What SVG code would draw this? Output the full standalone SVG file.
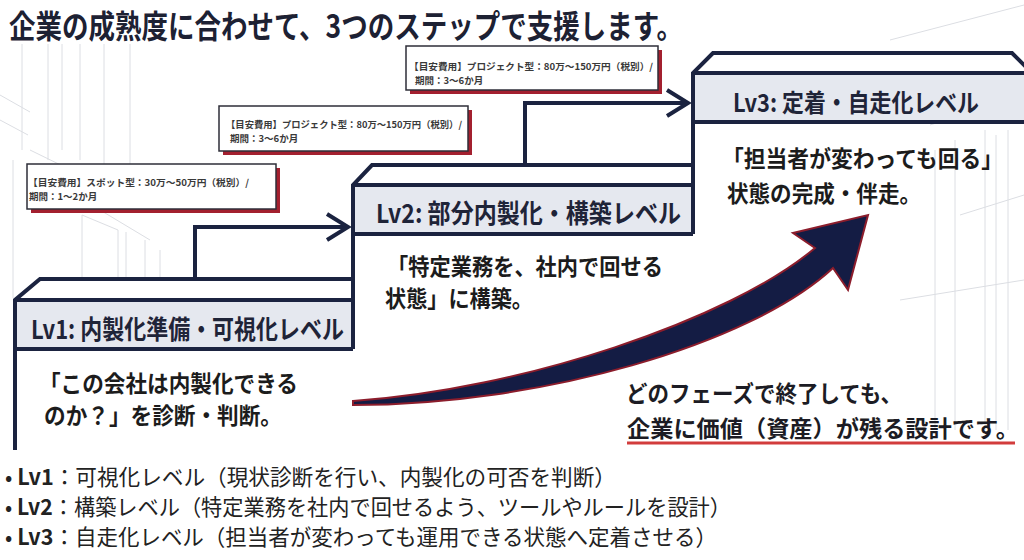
<svg xmlns="http://www.w3.org/2000/svg" width="1024" height="560" viewBox="0 0 1024 560">
<defs>
<style>
.bg{stroke:#dcdee3;stroke-width:1;fill:none}
.step{stroke:#1b2340;stroke-width:4;fill:none;stroke-linejoin:miter}
.band{fill:#e5e8ef}
.face{fill:#ffffff}
.conn{stroke:#1b2340;stroke-width:4;fill:none;stroke-linejoin:miter}
.jp{font-family:"Noto Sans CJK JP","Noto Sans",sans-serif}
.title{font-size:32px;font-weight:700;fill:#1d2133}
.lv{font-size:26px;font-weight:700;fill:#1f2438}
.body{font-size:23px;font-weight:700;fill:#1c1c1c}
.price{font-size:9.5px;font-weight:700;fill:#3a3a3a}
.pbox{fill:#ffffff;stroke:#2e2e38;stroke-width:1.5}
.pshadow{fill:#a3202f}
.note{font-size:23px;font-weight:700;fill:#1c1c24}
.bul{font-size:22px;font-weight:400;fill:#222222}
</style>
<marker id="chev" viewBox="0 0 26 30" refX="23" refY="15" markerWidth="26" markerHeight="30" markerUnits="userSpaceOnUse" orient="auto">
<path d="M2,2 L23,15 L2,28" fill="none" stroke="#1b2340" stroke-width="4"/>
</marker>
</defs>
<rect width="1024" height="560" fill="#ffffff"/>

<g id="background">
<path class="bg" d="M22,44V150 M48,44V160 M62,44V150 M80,44V160 M104,44V165 M130,44V165 M0,95L30,112 M0,120L28,135"/>
<path class="bg" d="M13,160V298 M30,150L75,172 M82,215V279 M100,210L150,240 M118,230V279 M126,232V279 M145,240V279 M160,250V279 M82,215L118,230"/>
<path class="bg" d="M935,150V430 M955,140V430 M985,130V430 M996,135V430 M1008,130V430 M890,40L1024,5 M930,125L1024,95 M960,215L1024,195 M900,300L1024,280"/>
</g>

<text class="jp title" x="9" y="38" textLength="674" lengthAdjust="spacingAndGlyphs">企業の成熟度に合わせて、3つのステップで支援します。</text>

<g id="connectors">
<path class="conn" d="M195,279 V227 H348" marker-end="url(#chev)"/>
<path class="conn" d="M525,165 V103 H688" marker-end="url(#chev)"/>
</g>

<g id="lv1">
<path class="face" d="M15,300 L40,279 H353 V300 Z"/>
<rect class="band" x="15" y="300" width="338" height="49"/>
<path class="step" d="M15,450 V300 L40,279 H353 V349 M15,300 H353 M15,349 H353"/>
<text class="jp lv" x="31" y="339" textLength="313" lengthAdjust="spacingAndGlyphs">Lv1: 内製化準備・可視化レベル</text>
<text class="jp body" x="39" y="392" textLength="259" lengthAdjust="spacingAndGlyphs">「この会社は内製化できる</text>
<text class="jp body" x="44" y="424" textLength="238" lengthAdjust="spacingAndGlyphs">のか？」を診断・判断。</text>
</g>

<g id="lv2">
<path class="face" d="M353,185 L372,165 H693 V185 Z"/>
<rect class="band" x="353" y="185" width="340" height="49"/>
<path class="step" d="M353,279 V185 L372,165 H693 V234 M353,185 H693 M353,234 H693"/>
<text class="jp lv" x="376" y="223" textLength="305" lengthAdjust="spacingAndGlyphs">Lv2: 部分内製化・構築レベル</text>
<text class="jp body" x="387" y="275" textLength="276" lengthAdjust="spacingAndGlyphs">「特定業務を、社内で回せる</text>
<text class="jp body" x="385" y="307" textLength="148" lengthAdjust="spacingAndGlyphs">状態」に構築。</text>
</g>

<g id="lv3">
<path class="face" d="M693,73 L713,53 H1012 L1032,73 Z"/>
<rect class="band" x="693" y="73" width="335" height="49"/>
<path class="step" d="M693,234 V73 L713,53 H1012 L1032,73 M693,73 H1030 M693,122 H1030"/>
<text class="jp lv" x="733" y="112" style="font-size:25px" textLength="246" lengthAdjust="spacingAndGlyphs">Lv3: 定着・自走化レベル</text>
<text class="jp body" x="722" y="167" textLength="281" lengthAdjust="spacingAndGlyphs">「担当者が変わっても回る」</text>
<text class="jp body" x="727" y="202" textLength="194" lengthAdjust="spacingAndGlyphs">状態の完成・伴走。</text>
</g>

<g id="price1">
<rect class="pshadow" x="31" y="168" width="249" height="45"/>
<rect class="pbox" x="27" y="164" width="249" height="45"/>
<text class="jp price" x="28" y="186" textLength="221" lengthAdjust="spacingAndGlyphs">【目安費用】スポット型：30万〜50万円（税別）/</text>
<text class="jp price" x="29" y="200">期間：1〜2か月</text>
</g>

<g id="price2">
<rect class="pshadow" x="223" y="110" width="249" height="45"/>
<rect class="pbox" x="219" y="106" width="249" height="45"/>
<text class="jp price" x="226" y="128" textLength="236" lengthAdjust="spacingAndGlyphs">【目安費用】プロジェクト型：80万〜150万円（税別）/</text>
<text class="jp price" x="230" y="142">期間：3〜6か月</text>
</g>

<g id="price3">
<rect class="pshadow" x="410" y="50" width="252" height="44"/>
<rect class="pbox" x="406" y="46" width="252" height="44"/>
<text class="jp price" x="409" y="70" textLength="244" lengthAdjust="spacingAndGlyphs">【目安費用】プロジェクト型：80万〜150万円（税別）/</text>
<text class="jp price" x="415" y="84">期間：3〜6か月</text>
</g>

<g id="growth-arrow">
<path d="M353,401 C520,390 730,320 815,248 L793,233 L868,215 L848,290 L833,268 C750,345 540,405 353,405 Z" fill="#141c44" stroke="#8c1d2c" stroke-width="2" stroke-linejoin="miter"/>
</g>

<g id="note">
<text class="jp note" x="626" y="402" textLength="276" lengthAdjust="spacingAndGlyphs">どのフェーズで終了しても、</text>
<text class="jp note" x="627" y="437" textLength="392" lengthAdjust="spacingAndGlyphs">企業に価値（資産）が残る設計です。</text>
<line x1="627" y1="443" x2="1015" y2="443" stroke="#d23c3c" stroke-width="3"/>
</g>

<g id="bullets">
<text class="jp bul" x="5" y="485" textLength="611" lengthAdjust="spacingAndGlyphs">• <tspan font-weight="700">Lv1</tspan>：可視化レベル（現状診断を行い、内製化の可否を判断）</text>
<text class="jp bul" x="5" y="515" textLength="726" lengthAdjust="spacingAndGlyphs">• <tspan font-weight="700">Lv2</tspan>：構築レベル（特定業務を社内で回せるよう、ツールやルールを設計）</text>
<text class="jp bul" x="5" y="545" textLength="712" lengthAdjust="spacingAndGlyphs">• <tspan font-weight="700">Lv3</tspan>：自走化レベル（担当者が変わっても運用できる状態へ定着させる）</text>
</g>
</svg>
